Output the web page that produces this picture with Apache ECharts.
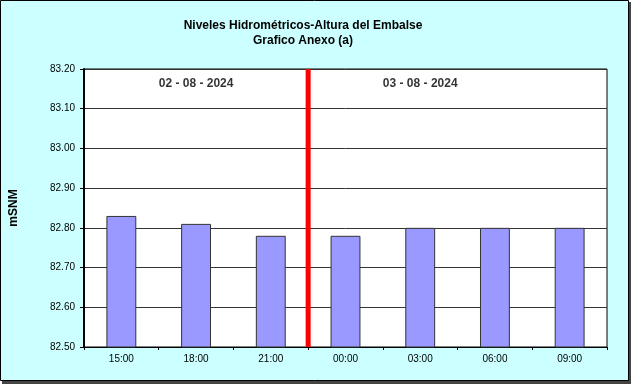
<!DOCTYPE html>
<html><head><meta charset="utf-8">
<script src="https://cdn.jsdelivr.net/npm/echarts@6/dist/echarts.min.js"></script>
<style>html,body{margin:0;padding:0;background:#fff}#c{width:633px;height:386px}</style>
</head><body><div id="c"></div>
<script>
const categories = ['15:00','18:00','21:00','00:00','03:00','06:00','09:00'];
const levels = [82.83, 82.81, 82.78, 82.78, 82.80, 82.80, 82.80];
const yTicks = [82.5, 82.6, 82.7, 82.8, 82.9, 83.0, 83.1, 83.2];
const dayLabels = ['02 - 08 - 2024', '03 - 08 - 2024'];
const dayLabelPos = [1.5, 4.5];
const dayBreak = 3;
const titleLines = ['Niveles Hidrométricos-Altura del Embalse', 'Grafico Anexo (a)'];
const yName = 'mSNM';

const chart = echarts.init(document.getElementById('c'), null, {renderer:'canvas'});
const F = 'Arial, "Liberation Sans", sans-serif';
chart.setOption({
  animation:false,
  backgroundColor:'#fff',
  graphic:[
    {type:'rect', shape:{x:2,y:2,width:629,height:382}, style:{fill:'#444'}, z:-10},
    {type:'rect', shape:{x:0.5,y:0.5,width:628,height:380}, style:{fill:'#CCFFFF', stroke:'#000', lineWidth:1}, z:-9}
  ],
  title:{
    text: titleLines.join('\n'),
    left:298, top:13, textAlign:'center',
    textStyle:{fontFamily:F, fontSize:12, fontWeight:'bold', color:'#000', lineHeight:15}
  },
  grid:{left:81, right:26, top:69, bottom:39, show:true, backgroundColor:'#fff', borderColor:'#000', borderWidth:1},
  xAxis:[
    {type:'category', data:categories, boundaryGap:true,
      axisLine:{lineStyle:{color:'#000', width:1}},
      axisTick:{show:true, length:3, lineStyle:{color:'#000'}},
      axisLabel:{fontFamily:F, fontSize:10, color:'#000', margin:7}},
    {type:'value', min:0, max:categories.length, show:false}
  ],
  yAxis:{
    type:'value', min:yTicks[0], max:yTicks[yTicks.length-1], interval:0.1,
    name:yName, nameLocation:'middle', nameGap:64, nameRotate:90,
    nameTextStyle:{fontFamily:F, fontSize:12, fontWeight:'bold', color:'#000'},
    axisLine:{show:true, lineStyle:{color:'#000', width:2}},
    axisTick:{show:true, length:4, lineStyle:{color:'#000'}},
    axisLabel:{fontFamily:F, fontSize:10, color:'#000', margin:9, formatter:v=>v.toFixed(2)},
    splitLine:{show:true, lineStyle:{color:'#333', width:1}}
  },
  series:[
    {type:'bar', data:levels, barWidth:'40%', xAxisIndex:0,
      itemStyle:{color:'#9999FF', borderColor:'#333', borderWidth:1}},
    {type:'line', xAxisIndex:1, data:[[dayBreak, yTicks[0]],[dayBreak, yTicks[yTicks.length-1]]],
      symbol:'none', lineStyle:{color:'#FF0000', width:5}, z:5},
    {type:'scatter', xAxisIndex:1, symbolSize:0,
      data:dayLabelPos.map((x,i)=>({value:[x, 83.162], label:{formatter:dayLabels[i]}})),
      label:{show:true, position:'inside', fontFamily:F, fontSize:12, fontWeight:'bold', color:'#000'}}
  ]
});
</script></body></html>
